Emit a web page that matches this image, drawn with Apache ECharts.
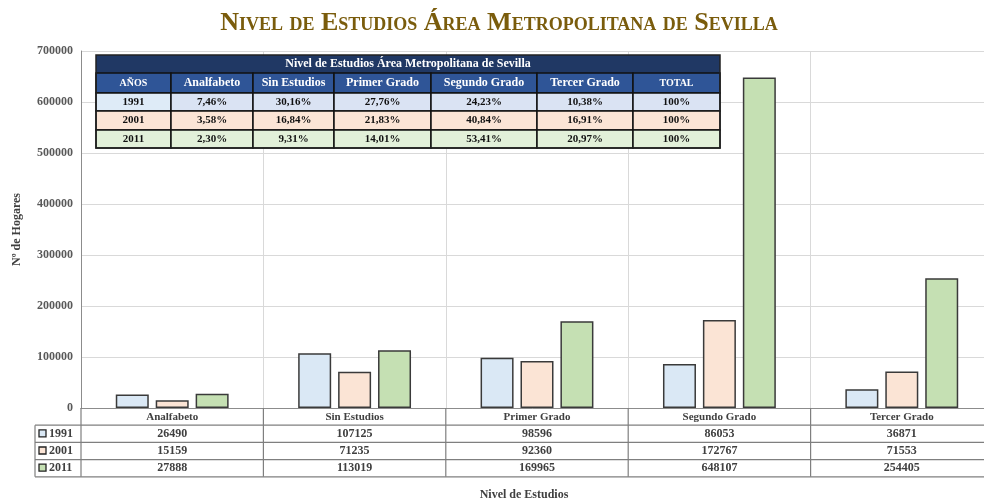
<!DOCTYPE html>
<html>
<head>
<meta charset="utf-8">
<script src="https://cdn.jsdelivr.net/npm/echarts@6/dist/echarts.min.js"></script>
<style>
  html, body { margin: 0; padding: 0; background: #fff; }
  #chart { width: 984px; height: 500px; }
</style>
</head>
<body>
<div id="chart"></div>
<script>
// datos
const categorias = ['Analfabeto', 'Sin Estudios', 'Primer Grado', 'Segundo Grado', 'Tercer Grado'];
const anios = ['1991', '2001', '2011'];
const hogares1991 = [26490, 107125, 98596, 86053, 36871];
const hogares2001 = [15159, 71235, 92360, 172767, 71553];
const hogares2011 = [27888, 113019, 169965, 648107, 254405];
const pct1991 = [7.46, 30.16, 27.76, 24.23, 10.38];
const pct2001 = [3.58, 16.84, 21.83, 40.84, 16.91];
const pct2011 = [2.30, 9.31, 14.01, 53.41, 20.97];
const cabeceraTabla = ['AÑOS', 'Analfabeto', 'Sin Estudios', 'Primer Grado', 'Segundo Grado', 'Tercer Grado', 'TOTAL'];

const hogares = [hogares1991, hogares2001, hogares2011];
const pcts = [pct1991, pct2001, pct2011];
const colores = ['#dae8f5', '#fbe4d5', '#c5e0b3'];
const serif = '"Liberation Serif", "DejaVu Serif", serif';

const chart = echarts.init(document.getElementById('chart'));

let option = {
  animation: false,
  textStyle: { fontFamily: serif },
  grid: { left: 81, width: 912, top: 51, bottom: 92, outerBoundsMode: 'none', containLabel: false },
  xAxis: {
    type: 'category',
    data: categorias,
    axisLine: { show: true, lineStyle: { color: '#8c8c8c', width: 1 } },
    axisTick: { show: false },
    axisLabel: { margin: 4, fontFamily: serif, fontSize: 11, fontWeight: 'bold', color: '#404040' },
    splitLine: { show: true, lineStyle: { color: '#d9d9d9', width: 1 } }
  },
  yAxis: {
    type: 'value',
    min: 0, max: 700000, interval: 100000,
    name: 'Nº de Hogares',
    nameLocation: 'middle',
    nameGap: 58,
    nameRotate: 90,
    nameTextStyle: { fontFamily: serif, fontSize: 12, fontWeight: 'bold', color: '#404040' },
    axisLine: { show: true, lineStyle: { color: '#8c8c8c', width: 1 } },
    axisTick: { show: false },
    axisLabel: { margin: 8, fontFamily: serif, fontSize: 12, fontWeight: 'bold', color: '#595959',
      formatter: v => String(v) },
    splitLine: { lineStyle: { color: '#d9d9d9', width: 1 } }
  },
  series: anios.map((a, i) => ({
    name: a,
    type: 'bar',
    data: hogares[i],
    barWidth: 33,
    barGap: '21%',
    itemStyle: { color: colores[i], borderColor: '#3a3a3a', borderWidth: 1.5 }
  }))
};
chart.setOption(option);

function fmtPct(v) { return v.toFixed(2).replace('.', ',') + '%'; }

function dibujarTablas() {
  const g = [];
  // titulo
  g.push({
    type: 'text', x: 499, y: 23, z: 100,
    style: { text: 'Nivel de Estudios Área Metropolitana de Sevilla',
      font: 'small-caps bold 26px ' + serif, fill: '#7a5c0c', align: 'center', verticalAlign: 'middle' }
  });
  g.push({
    type: 'text', x: 524, y: 495, z: 100,
    style: { text: 'Nivel de Estudios', font: 'bold 12px ' + serif, fill: '#404040',
      align: 'center', verticalAlign: 'middle' }
  });

  // tabla inferior
  const y0 = chart.convertToPixel({ yAxisIndex: 0 }, 0);
  const c0 = chart.convertToPixel({ xAxisIndex: 0 }, 0);
  const c1 = chart.convertToPixel({ xAxisIndex: 0 }, 1);
  const w = c1 - c0;
  const left = c0 - w / 2;
  const right = left + w * categorias.length;
  const rowH = 17.2;
  const legL = 35;
  const lineC = '#7f7f7f';
  const ln = (x1, y1, x2, y2) => g.push({ type: 'line', z: 90, shape: { x1, y1, x2, y2 },
    style: { stroke: lineC, lineWidth: 1.2 } });
  for (let r = 1; r <= 4; r++) ln(legL, y0 + r * rowH, right, y0 + r * rowH);
  ln(legL, y0 + rowH, legL, y0 + 4 * rowH);
  for (let c = 0; c <= categorias.length; c++) ln(left + c * w, y0, left + c * w, y0 + 4 * rowH);
  anios.forEach((a, i) => {
    const yc = y0 + (i + 1.5) * rowH;
    g.push({ type: 'rect', z: 95, shape: { x: legL + 4, y: yc - 4, width: 7, height: 7 },
      style: { fill: colores[i], stroke: '#222', lineWidth: 1.3 } });
    g.push({ type: 'text', z: 95, x: legL + 14, y: yc,
      style: { text: a, font: 'bold 12px ' + serif, fill: '#404040', verticalAlign: 'middle' } });
    hogares[i].forEach((v, j) => {
      g.push({ type: 'text', z: 95, x: left + (j + 0.5) * w, y: yc,
        style: { text: String(v), font: 'bold 12px ' + serif, fill: '#404040',
          align: 'center', verticalAlign: 'middle' } });
    });
  });

  // tabla insertada
  const cols = [96, 171, 253, 334, 431, 537, 633, 720];
  const rows = [55, 73, 93, 111, 130, 148];
  const fondos = [['#deebf7', '#dae3f3'], ['#fbe5d6', '#fbe5d6'], ['#e2f0d9', '#e2f0d9']];
  g.push({ type: 'rect', z: 80, shape: { x: cols[0], y: rows[0], width: cols[7] - cols[0], height: rows[1] - rows[0] },
    style: { fill: '#203864' } });
  g.push({ type: 'text', z: 85, x: (cols[0] + cols[7]) / 2, y: (rows[0] + rows[1]) / 2,
    style: { text: 'Nivel de Estudios Área Metropolitana de Sevilla', font: 'bold 12px ' + serif,
      fill: '#ffffff', align: 'center', verticalAlign: 'middle' } });
  for (let c = 0; c < 7; c++) {
    const x = cols[c], cw = cols[c + 1] - cols[c];
    g.push({ type: 'rect', z: 80, shape: { x, y: rows[1], width: cw, height: rows[2] - rows[1] },
      style: { fill: '#2f5597', stroke: '#111', lineWidth: 1.5 } });
    const small = (c === 0 || c === 6);
    g.push({ type: 'text', z: 85, x: x + cw / 2, y: (rows[1] + rows[2]) / 2,
      style: { text: cabeceraTabla[c], font: 'bold ' + (small ? 10 : 12) + 'px ' + serif,
        fill: '#ffffff', align: 'center', verticalAlign: 'middle' } });
    for (let r = 0; r < 3; r++) {
      const y = rows[r + 2], rh = rows[r + 3] - rows[r + 2];
      g.push({ type: 'rect', z: 80, shape: { x, y, width: cw, height: rh },
        style: { fill: fondos[r][c === 0 ? 0 : 1], stroke: '#111', lineWidth: 1.5 } });
      let t;
      if (c === 0) t = anios[r];
      else if (c === 6) t = '100%';
      else t = fmtPct(pcts[r][c - 1]);
      g.push({ type: 'text', z: 85, x: x + cw / 2, y: y + rh / 2,
        style: { text: t, font: 'bold 11px ' + serif, fill: '#111',
          align: 'center', verticalAlign: 'middle' } });
    }
  }
  g.push({ type: 'rect', z: 86, shape: { x: cols[0], y: rows[0], width: cols[7] - cols[0], height: rows[5] - rows[0] },
    style: { fill: 'none', stroke: '#222', lineWidth: 1.5 } });

  chart.setOption({ graphic: g });
}
dibujarTablas();

window.addEventListener('resize', () => { chart.resize(); dibujarTablas(); });
</script>
</body>
</html>
